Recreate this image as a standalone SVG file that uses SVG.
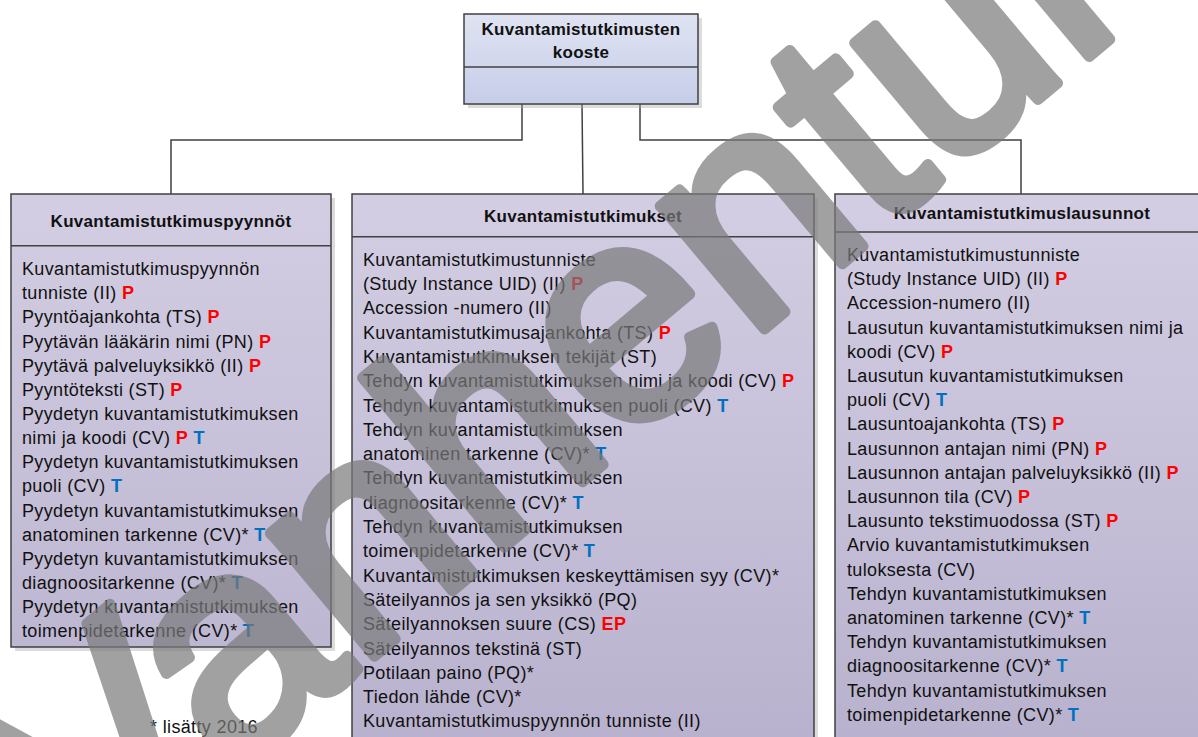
<svg xmlns="http://www.w3.org/2000/svg" width="1198" height="737" viewBox="0 0 1198 737">
<defs>
  <linearGradient id="gTop" x1="0" y1="0" x2="0" y2="1">
    <stop offset="0" stop-color="#dfe3f2"/>
    <stop offset="1" stop-color="#c6cde8"/>
  </linearGradient>
  <linearGradient id="gBox" gradientUnits="userSpaceOnUse" x1="0" y1="194" x2="0" y2="737">
    <stop offset="0" stop-color="#d3cee3"/>
    <stop offset="1" stop-color="#b9b2ce"/>
  </linearGradient>
</defs>
<style>
  .box{fill:url(#gBox);stroke:#404040;stroke-width:1.5}
  .topbox{fill:url(#gTop);stroke:#404040;stroke-width:1.5}
  .sh{fill:#a8a8a8;opacity:.4}
  .div{stroke:#404040;stroke-width:1.5}
  .hd{font-family:"Liberation Sans",Arial,sans-serif;font-weight:bold;font-size:17px;fill:#111;text-anchor:middle;letter-spacing:0.3px}
  .t{font-family:"Liberation Sans",Arial,sans-serif;font-size:18px;fill:#111;letter-spacing:0.35px}
  .p{fill:#ff0000;font-weight:bold}
  .b{fill:#0070c0;font-weight:bold}
  .ln{fill:none;stroke:#404040;stroke-width:1.5}
  .wm{font-family:"Liberation Sans",Arial,sans-serif;font-size:305px;fill:#7a7a7a;stroke:#7a7a7a;stroke-width:11;stroke-linejoin:round}
</style>
<rect width="1198" height="737" fill="#ffffff"/>

<g id="connectors">
  <path class="ln" d="M522,104 V140 H171 V194"/>
  <path class="ln" d="M582,104 L583,194"/>
  <path class="ln" d="M640,104 V140 H1021 V194"/>
</g>

<g id="kooste">
  <rect class="sh" x="468" y="18" width="234" height="90"/>
  <rect class="topbox" x="464" y="14" width="234" height="90"/>
  <line class="div" x1="464" y1="67" x2="698" y2="67"/>
  <text class="hd" x="581" y="35">Kuvantamistutkimusten</text>
  <text class="hd" x="581" y="58">kooste</text>
</g>

<g id="pyynnot">
  <rect class="sh" x="15" y="198" width="320" height="453"/>
  <rect class="box" x="11" y="194" width="320" height="453"/>
  <line class="div" x1="11" y1="245.7" x2="331" y2="245.7"/>
  <text class="hd" x="171" y="227">Kuvantamistutkimuspyynnöt</text>
  <text class="t" x="22" y="275">Kuvantamistutkimuspyynnön</text>
  <text class="t" x="22" y="299.2">tunniste (II) <tspan class="p">P</tspan></text>
  <text class="t" x="22" y="323.3">Pyyntöajankohta (TS) <tspan class="p">P</tspan></text>
  <text class="t" x="22" y="347.5">Pyytävän lääkärin nimi (PN) <tspan class="p">P</tspan></text>
  <text class="t" x="22" y="371.6">Pyytävä palveluyksikkö (II) <tspan class="p">P</tspan></text>
  <text class="t" x="22" y="395.8">Pyyntöteksti (ST) <tspan class="p">P</tspan></text>
  <text class="t" x="22" y="419.9">Pyydetyn kuvantamistutkimuksen</text>
  <text class="t" x="22" y="444.1">nimi ja koodi (CV) <tspan class="p">P</tspan> <tspan class="b">T</tspan></text>
  <text class="t" x="22" y="468.2">Pyydetyn kuvantamistutkimuksen</text>
  <text class="t" x="22" y="492.4">puoli (CV) <tspan class="b">T</tspan></text>
  <text class="t" x="22" y="516.5">Pyydetyn kuvantamistutkimuksen</text>
  <text class="t" x="22" y="540.7">anatominen tarkenne (CV)* <tspan class="b">T</tspan></text>
  <text class="t" x="22" y="564.8">Pyydetyn kuvantamistutkimuksen</text>
  <text class="t" x="22" y="589">diagnoositarkenne (CV)* <tspan class="b">T</tspan></text>
  <text class="t" x="22" y="613.1">Pyydetyn kuvantamistutkimuksen</text>
  <text class="t" x="22" y="637.3">toimenpidetarkenne (CV)* <tspan class="b">T</tspan></text>
</g>

<g id="tutkimukset">
  <rect class="sh" x="356" y="198" width="462" height="560"/>
  <rect class="box" x="352" y="194" width="462" height="560"/>
  <line class="div" x1="352" y1="236.7" x2="814" y2="236.7"/>
  <text class="hd" x="583" y="222">Kuvantamistutkimukset</text>
  <text class="t" x="363" y="265.7">Kuvantamistutkimustunniste</text>
  <text class="t" x="363" y="290">(Study Instance UID) (II) <tspan class="p">P</tspan></text>
  <text class="t" x="363" y="314.3">Accession -numero (II)</text>
  <text class="t" x="363" y="338.6">Kuvantamistutkimusajankohta (TS) <tspan class="p">P</tspan></text>
  <text class="t" x="363" y="362.9">Kuvantamistutkimuksen tekijät (ST)</text>
  <text class="t" x="363" y="387.2">Tehdyn kuvantamistutkimuksen nimi ja koodi (CV) <tspan class="p">P</tspan></text>
  <text class="t" x="363" y="411.5">Tehdyn kuvantamistutkimuksen puoli (CV) <tspan class="b">T</tspan></text>
  <text class="t" x="363" y="435.8">Tehdyn kuvantamistutkimuksen</text>
  <text class="t" x="363" y="460.1">anatominen tarkenne (CV)* <tspan class="b">T</tspan></text>
  <text class="t" x="363" y="484.4">Tehdyn kuvantamistutkimuksen</text>
  <text class="t" x="363" y="508.7">diagnoositarkenne (CV)* <tspan class="b">T</tspan></text>
  <text class="t" x="363" y="533">Tehdyn kuvantamistutkimuksen</text>
  <text class="t" x="363" y="557.3">toimenpidetarkenne (CV)* <tspan class="b">T</tspan></text>
  <text class="t" x="363" y="581.6">Kuvantamistutkimuksen keskeyttämisen syy (CV)*</text>
  <text class="t" x="363" y="605.9">Säteilyannos ja sen yksikkö (PQ)</text>
  <text class="t" x="363" y="630.2">Säteilyannoksen suure (CS) <tspan class="p">EP</tspan></text>
  <text class="t" x="363" y="654.5">Säteilyannos tekstinä (ST)</text>
  <text class="t" x="363" y="678.8">Potilaan paino (PQ)*</text>
  <text class="t" x="363" y="703.1">Tiedon lähde (CV)*</text>
  <text class="t" x="363" y="727.4">Kuvantamistutkimuspyynnön tunniste (II)</text>
</g>

<g id="lausunnot">
  <rect class="sh" x="839" y="198" width="375" height="560"/>
  <rect class="box" x="835" y="194" width="375" height="560"/>
  <line class="div" x1="835" y1="232" x2="1210" y2="232"/>
  <text class="hd" x="1022" y="219">Kuvantamistutkimuslausunnot</text>
  <text class="t" x="847" y="261">Kuvantamistutkimustunniste</text>
  <text class="t" x="847" y="285.2">(Study Instance UID) (II) <tspan class="p">P</tspan></text>
  <text class="t" x="847" y="309.4">Accession-numero (II)</text>
  <text class="t" x="847" y="333.6">Lausutun kuvantamistutkimuksen nimi ja</text>
  <text class="t" x="847" y="357.8">koodi (CV) <tspan class="p">P</tspan></text>
  <text class="t" x="847" y="382">Lausutun kuvantamistutkimuksen</text>
  <text class="t" x="847" y="406.2">puoli (CV) <tspan class="b">T</tspan></text>
  <text class="t" x="847" y="430.4">Lausuntoajankohta (TS) <tspan class="p">P</tspan></text>
  <text class="t" x="847" y="454.6">Lausunnon antajan nimi (PN) <tspan class="p">P</tspan></text>
  <text class="t" x="847" y="478.8">Lausunnon antajan palveluyksikkö (II) <tspan class="p">P</tspan></text>
  <text class="t" x="847" y="503">Lausunnon tila (CV) <tspan class="p">P</tspan></text>
  <text class="t" x="847" y="527.2">Lausunto tekstimuodossa (ST) <tspan class="p">P</tspan></text>
  <text class="t" x="847" y="551.4">Arvio kuvantamistutkimuksen</text>
  <text class="t" x="847" y="575.6">tuloksesta (CV)</text>
  <text class="t" x="847" y="599.8">Tehdyn kuvantamistutkimuksen</text>
  <text class="t" x="847" y="624">anatominen tarkenne (CV)* <tspan class="b">T</tspan></text>
  <text class="t" x="847" y="648.2">Tehdyn kuvantamistutkimuksen</text>
  <text class="t" x="847" y="672.4">diagnoositarkenne (CV)* <tspan class="b">T</tspan></text>
  <text class="t" x="847" y="696.6">Tehdyn kuvantamistutkimuksen</text>
  <text class="t" x="847" y="720.8">toimenpidetarkenne (CV)* <tspan class="b">T</tspan></text>
</g>

<text class="t" x="150" y="733">* lisätty 2016</text>

<text class="wm" opacity="0.7" transform="translate(90,895) rotate(-40)">Vanhentunut</text>
</svg>
